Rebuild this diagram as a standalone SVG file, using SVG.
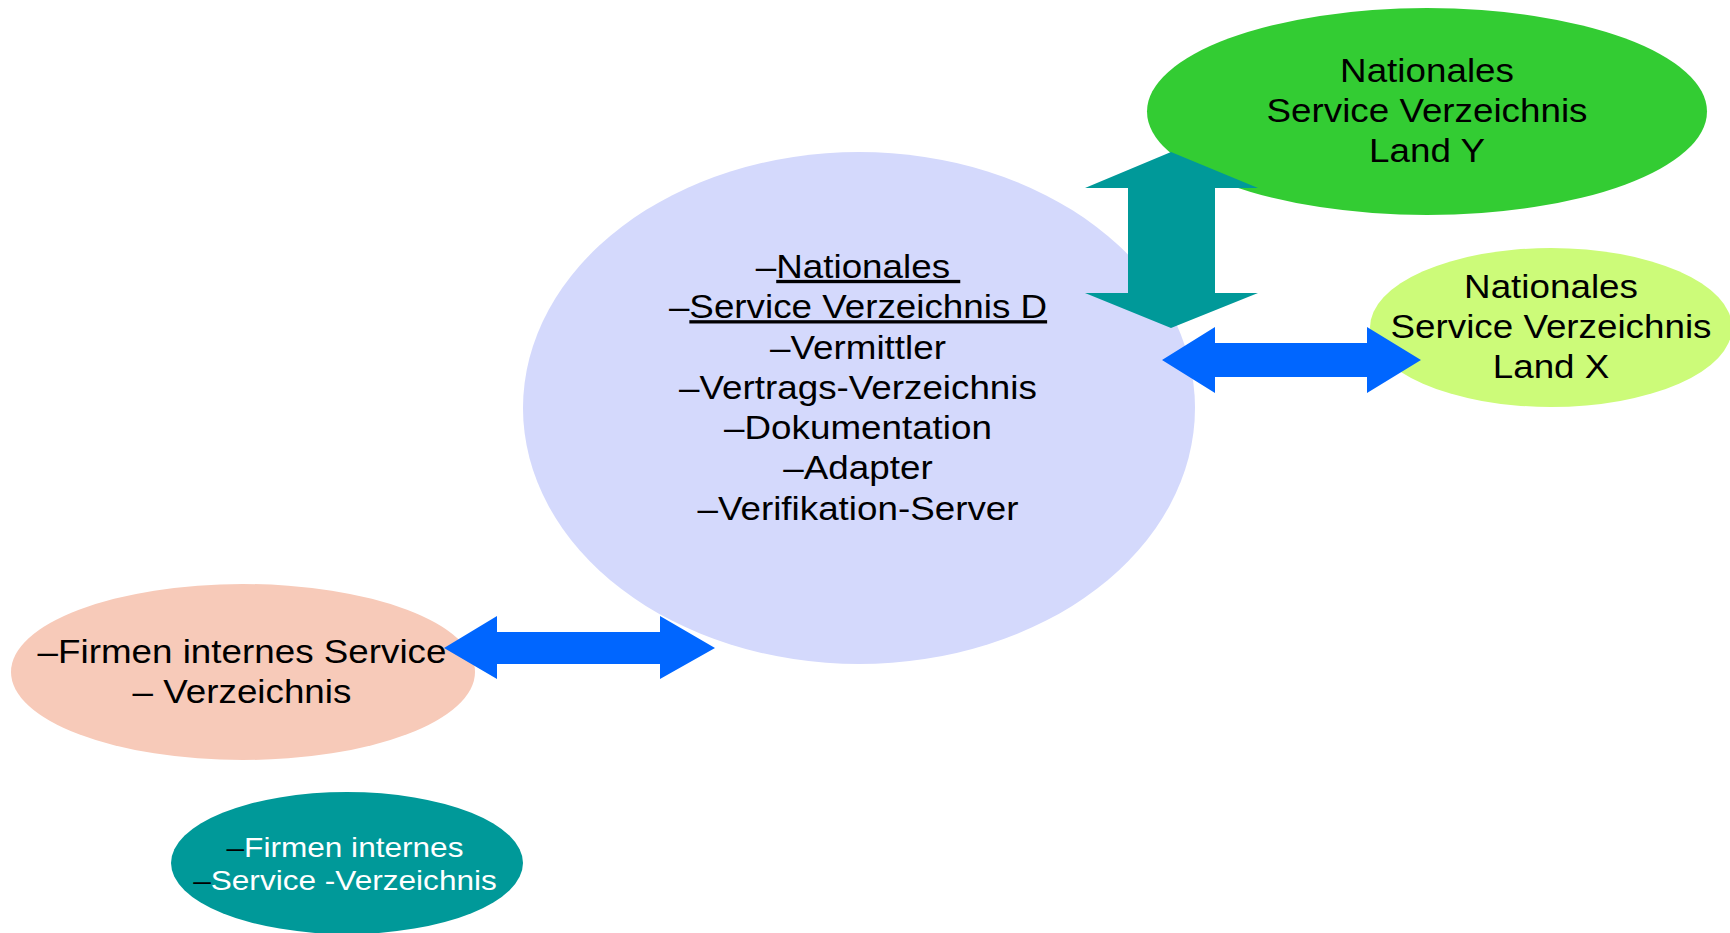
<svg xmlns="http://www.w3.org/2000/svg" width="1730" height="933" viewBox="0 0 1730 933">
  <style>
    .lbl { font-family: "Liberation Sans", Arial, sans-serif; font-size: 33px; fill: #000; text-anchor: middle; }
    .small { font-family: "Liberation Sans", Arial, sans-serif; font-size: 27px; fill: #fff; text-anchor: middle; }
    .u { text-decoration: underline; }
    .dash { fill: #000; }
  </style>
  <rect width="1730" height="933" fill="#fff"/>

  <!-- central directory -->
  <g id="node-national-d">
    <ellipse cx="859" cy="408" rx="336" ry="256" fill="#D4D9FC"/>
    <g transform="translate(858 0) scale(1.115 1)">
      <text class="lbl" x="0" y="278">–<tspan class="u">Nationales&#160;</tspan></text>
      <text class="lbl" x="0" y="318.3">–<tspan class="u">Service Verzeichnis D</tspan></text>
      <text class="lbl" x="0" y="358.6">–Vermittler</text>
      <text class="lbl" x="0" y="398.9">–Vertrags-Verzeichnis</text>
      <text class="lbl" x="0" y="439.2">–Dokumentation</text>
      <text class="lbl" x="0" y="479.5">–Adapter</text>
      <text class="lbl" x="0" y="519.8">–Verifikation-Server</text>
    </g>
  </g>

  <!-- country Y -->
  <g id="node-land-y">
    <ellipse cx="1427" cy="111.5" rx="280" ry="103.5" fill="#33CC33"/>
    <g transform="translate(1427 0) scale(1.115 1)">
      <text class="lbl" x="0" y="82">Nationales</text>
      <text class="lbl" x="0" y="122">Service Verzeichnis</text>
      <text class="lbl" x="0" y="162">Land Y</text>
    </g>
  </g>

  <!-- country X -->
  <g id="node-land-x">
    <ellipse cx="1551" cy="327.5" rx="181" ry="79.5" fill="#CCFB79"/>
    <g transform="translate(1551 0) scale(1.115 1)">
      <text class="lbl" x="0" y="298">Nationales</text>
      <text class="lbl" x="0" y="338">Service Verzeichnis</text>
      <text class="lbl" x="0" y="378">Land X</text>
    </g>
  </g>

  <!-- company internal directory -->
  <g id="node-firmen">
    <ellipse cx="243" cy="672" rx="232" ry="88" fill="#F7CAB9"/>
    <g transform="translate(242 0) scale(1.115 1)">
      <text class="lbl" x="0" y="663">–Firmen internes Service</text>
      <text class="lbl" x="0" y="703">– Verzeichnis</text>
    </g>
  </g>

  <!-- company internal directory (teal) -->
  <g id="node-firmen-2">
    <ellipse cx="347" cy="863" rx="176" ry="71" fill="#009999"/>
    <g transform="translate(345 0) scale(1.17 1)">
      <text class="small" x="0" y="857"><tspan class="dash">–</tspan>Firmen internes</text>
      <text class="small" x="0" y="890"><tspan class="dash">–</tspan>Service -Verzeichnis</text>
    </g>
  </g>

  <!-- double-headed block arrows -->
  <g id="connectors">
    <polygon fill="#009999" points="1171,152 1258,188 1215,188 1215,293 1258,293 1171,328 1085,293 1128,293 1128,188 1085,188"/>
    <polygon fill="#0066FF" points="1162,360 1215,327 1215,343 1367,343 1367,327 1421,360 1367,393 1367,377 1215,377 1215,393"/>
    <polygon fill="#0066FF" points="444,648 497,616 497,632 660,632 660,616 715,648 660,679 660,664 497,664 497,679"/>
  </g>
</svg>
